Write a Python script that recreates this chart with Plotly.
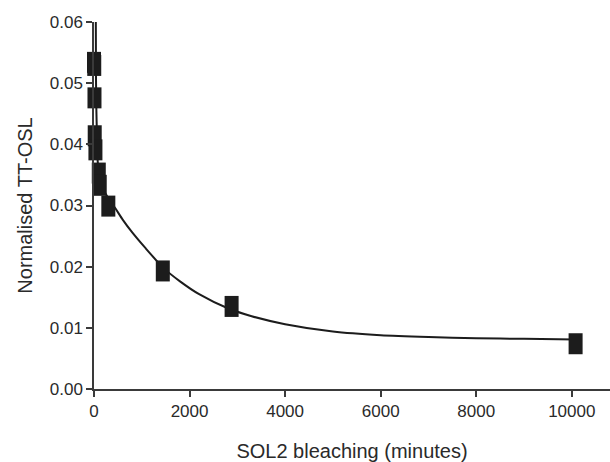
import plotly.graph_objects as go

# Measured data points (minutes, normalised TT-OSL)
bleach_minutes = [0, 5, 10, 15, 30, 100, 120, 300, 1440, 2880, 10080]
tt_osl = [0.0534, 0.0529, 0.0476, 0.0414, 0.0391, 0.0353, 0.0333, 0.0299, 0.0193, 0.0135, 0.0074]

# Fitted curve
curve_minutes = [38, 42, 50, 60, 80, 150, 300, 450, 600, 800, 1070, 1450, 1800,
                 2200, 2800, 3300, 4000, 5000, 6000, 7000, 8000, 9000, 10080]
curve_values = [0.0600, 0.0505, 0.0455, 0.0420, 0.0370, 0.0334, 0.0312, 0.0295, 0.0277,
                0.0256, 0.0231, 0.0198, 0.0176, 0.0155, 0.0132, 0.0119, 0.0106, 0.0094,
                0.0088, 0.0085, 0.0083, 0.0082, 0.0081]

x_ticks = [0, 2000, 4000, 6000, 8000, 10000]
y_ticks = [0.00, 0.01, 0.02, 0.03, 0.04, 0.05, 0.06]

ink = "#1c1c1c"
axis_col = "#3a3a3a"
font_fam = "Liberation Sans, Arial, sans-serif"

fig = go.Figure()
fig.add_trace(go.Scatter(x=curve_minutes, y=curve_values, mode="lines",
                         line=dict(color=ink, width=2, shape="spline", smoothing=0.6),
                         hoverinfo="skip", showlegend=False))
# tall rectangular markers: a thick vertical line symbol (height = 1.4*size)
fig.add_trace(go.Scatter(x=bleach_minutes, y=tt_osl, mode="markers",
                         cliponaxis=False,
                         marker=dict(symbol="line-ns", size=15, color=ink,
                                     line=dict(width=14, color=ink)),
                         showlegend=False))

fig.update_layout(
    width=610, height=462,
    margin=dict(l=94, r=0, t=22, b=73),
    paper_bgcolor="white", plot_bgcolor="white",
    font=dict(family=font_fam, color="#2a2a2a", size=17),
    showlegend=False,
)
fig.update_xaxes(
    range=[0, 10800], tickvals=x_ticks, ticktext=[str(v) for v in x_ticks],
    showgrid=False, zeroline=False, showline=True, linecolor=axis_col, linewidth=1.5,
    ticks="outside", ticklen=6, tickwidth=1.5, tickcolor=axis_col,
    tickfont=dict(size=17),
    title=dict(text="SOL2 bleaching (minutes)", font=dict(size=20), standoff=25),
)
fig.update_yaxes(
    range=[0, 0.06], tickvals=y_ticks, ticktext=[f"{v:.2f}" for v in y_ticks],
    showgrid=False, zeroline=False, showline=True, linecolor=axis_col, linewidth=1.5,
    ticks="outside", ticklen=6, tickwidth=1.5, tickcolor=axis_col,
    tickfont=dict(size=17),
    title=dict(text="Normalised TT-OSL", font=dict(size=20), standoff=12),
)

fig.write_html("out.html")
